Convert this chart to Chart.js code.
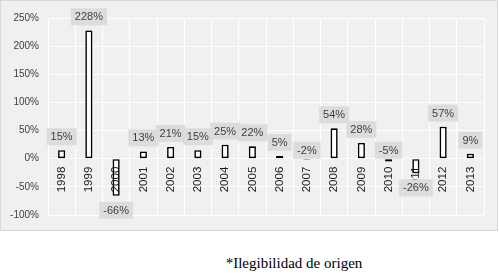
<!DOCTYPE html>
<html>
<head>
<meta charset="utf-8">
<script src="https://cdn.jsdelivr.net/npm/chart.js@4.4.1/dist/chart.umd.min.js"></script>
<style>
  html, body { margin: 0; padding: 0; background: #fff; }
  body { width: 499px; height: 278px; position: relative; overflow: hidden; }
  #box {
    position: absolute; left: 0; top: 0; width: 496px; height: 229px;
    background: #f0f0f0; border: 1px solid #d9d9d9;
  }
  #box canvas { position: absolute; left: 0; top: 0; }
  #note {
    position: absolute; left: 0; width: 499px; top: 255px; padding-left: 89px; box-sizing: border-box;
    text-align: center; font-family: "Liberation Serif", "Times New Roman", serif; font-size: 15px; color: #000;
  }
</style>
</head>
<body>
<div id="box"><canvas id="chart" width="496" height="229"></canvas></div>
<div id="note">*Ilegibilidad de origen</div>
<script>
const years = ['1998', '1999', '2000', '2001', '2002', '2003', '2004', '2005',
               '2006', '2007', '2008', '2009', '2010', '2011', '2012', '2013'];
const growth = [15, 228, -66, 13, 21, 15, 25, 22, 5, -2, 54, 28, -5, -26, 57, 9];
const yTicks = [-100, -50, 0, 50, 100, 150, 200, 250];

// soft grey glow behind the bars
const barShadow = {
    id: 'barShadow',
    beforeDatasetsDraw(chart) {
        const ctx = chart.ctx;
        ctx.save();
        ctx.shadowColor = 'rgba(0,0,0,0.35)';
        ctx.shadowBlur = 3;
    },
    afterDatasetsDraw(chart) {
        chart.ctx.restore();
    }
};

// value labels in grey boxes
const valueLabels = {
    id: 'valueLabels',
    afterDraw(chart) {
        const ctx = chart.ctx;
        const meta = chart.getDatasetMeta(0);
        const zeroY = chart.scales.y.getPixelForValue(0);
        ctx.save();
        ctx.font = '11px "Liberation Sans", Arial, sans-serif';
        ctx.textAlign = 'center';
        ctx.textBaseline = 'middle';
        meta.data.forEach((bar, i) => {
            const v = growth[i];
            const text = v + '%';
            const w = ctx.measureText(text).width + 8;
            const h = 17;
            let top;
            if (v >= 0) top = bar.y - 5 - h;
            else if (v > -10) top = zeroY - h;
            else top = bar.y + 6;
            ctx.fillStyle = '#dcdcdc';
            ctx.fillRect(bar.x - w / 2, top, w, h);
            ctx.fillStyle = '#404040';
            ctx.fillText(text, bar.x, top + h / 2 + 0.5);
        });
        ctx.restore();
    }
};

new Chart(document.getElementById('chart'), {
    type: 'bar',
    data: {
        labels: years,
        datasets: [{
            data: growth,
            backgroundColor: '#ffffff',
            borderColor: '#000000',
            borderWidth: 1.6,
            borderSkipped: false,
            categoryPercentage: 1,
            barPercentage: 0.26
        }]
    },
    options: {
        responsive: false,
        animation: false,
        layout: { padding: { left: 0, right: 13, top: 17, bottom: 14 } },
        plugins: {
            legend: { display: false },
            tooltip: { enabled: false }
        },
        scales: {
            x: {
                position: { y: 0 },
                grid: { color: '#ffffff', lineWidth: 1, drawTicks: false, offset: true },
                border: { display: false },
                ticks: {
                    z: 1,
                    minRotation: 90,
                    maxRotation: 90,
                    padding: 8,
                    color: '#1a1a1a',
                    font: { family: '"Liberation Sans", Arial, sans-serif', size: 11.5 }
                }
            },
            y: {
                min: -100,
                max: 250,
                afterBuildTicks: (s) => { s.ticks = yTicks.map(v => ({ value: v })); },
                afterFit: (s) => { s.width = 47; },
                grid: { color: '#ffffff', lineWidth: 1, drawTicks: false },
                border: { display: false },
                ticks: {
                    padding: 9,
                    color: '#404040',
                    font: { family: '"Liberation Sans", Arial, sans-serif', size: 10 },
                    callback: (v) => v + '%'
                }
            }
        }
    },
    plugins: [barShadow, valueLabels]
});
</script>
</body>
</html>
